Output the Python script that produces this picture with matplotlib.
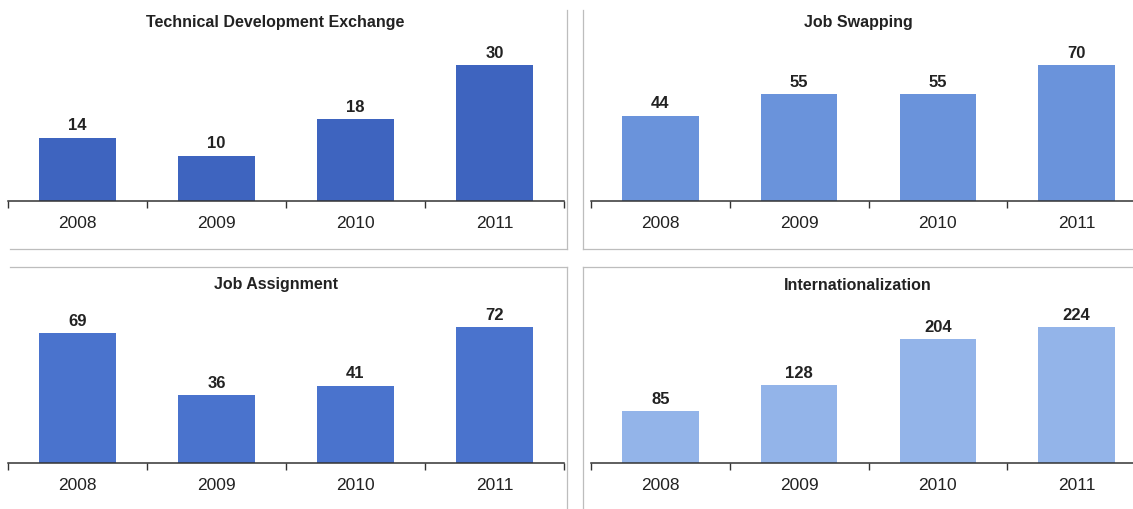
import matplotlib.pyplot as plt
from matplotlib.lines import Line2D

plt.rcParams["font.family"] = ["Liberation Sans", "DejaVu Sans"]

years = ["2008", "2009", "2010", "2011"]

tech_exchange = [14, 10, 18, 30]
job_swapping = [44, 55, 55, 70]
job_assignment = [69, 36, 41, 72]
internationalization = [85, 128, 204, 224]

W, H = 1133, 509
fig = plt.figure(figsize=(W / 100, H / 100), dpi=100)
fig.patch.set_facecolor("white")


def px_axes(x0, x1, base, height):
    """Axes placed in pixel coordinates (origin top-left)."""
    return fig.add_axes([x0 / W, (H - base) / H, (x1 - x0) / W, height / H])


def draw_panel(x0, x1, base, values, color, title, title_x, title_y):
    ax_h = 150
    ax = px_axes(x0, x1, base, ax_h)
    pos = list(range(len(years)))
    bars = ax.bar(pos, values, width=0.55, color=color, edgecolor="none")
    # tallest bar spans ~136 px above the axis line
    ax.set_ylim(0, max(values) * ax_h / 136)
    ax.set_xlim(-0.5, len(years) - 0.5)

    for b, v in zip(bars, values):
        ax.annotate(str(v), (b.get_x() + b.get_width() / 2, v),
                    xytext=(0, 3), textcoords="offset points",
                    ha="center", va="bottom", fontsize=12,
                    fontweight="bold", color="#222222")

    for s in ("top", "left", "right"):
        ax.spines[s].set_visible(False)
    ax.spines["bottom"].set_color("#333333")
    ax.spines["bottom"].set_linewidth(1.1)
    ax.set_yticks([])

    ax.set_xticks([p - 0.5 for p in range(len(years) + 1)])
    ax.set_xticklabels([])
    ax.tick_params(axis="x", which="major", direction="out", length=5,
                   width=1, color="#333333")
    ax.set_xticks(pos, minor=True)
    ax.set_xticklabels(years, minor=True, fontsize=12.5, color="#222222")
    ax.tick_params(axis="x", which="minor", length=0, pad=11)
    ax.patch.set_alpha(0)

    fig.text(title_x / W, 1 - title_y / H, title, ha="center", va="center",
             fontsize=11.5, fontweight="bold", color="#222222")
    return ax


draw_panel(8, 564, 201, tech_exchange, "#3e64bf",
           "Technical Development Exchange", 275, 22)
draw_panel(591, 1146, 201, job_swapping, "#6a93db",
           "Job Swapping", 858, 22)
draw_panel(8, 564, 463, job_assignment, "#4a73cd",
           "Job Assignment", 276, 285)
draw_panel(591, 1146, 463, internationalization, "#93b4e9",
           "Internationalization", 858, 285)

# light grey panel frames
frame = dict(color="#bdbdbd", linewidth=0.9)


def px_line(xs, ys):
    fig.add_artist(Line2D([x / W for x in xs], [1 - y / H for y in ys], **frame))


px_line([10, 567], [249, 249])
px_line([567, 567], [10, 249])
px_line([583, 1133], [249, 249])
px_line([583, 583], [10, 249])
px_line([10, 567], [267, 267])
px_line([567, 567], [267, 509])
px_line([583, 1133], [267, 267])
px_line([583, 583], [267, 509])

fig.savefig("out.png", dpi=100)
